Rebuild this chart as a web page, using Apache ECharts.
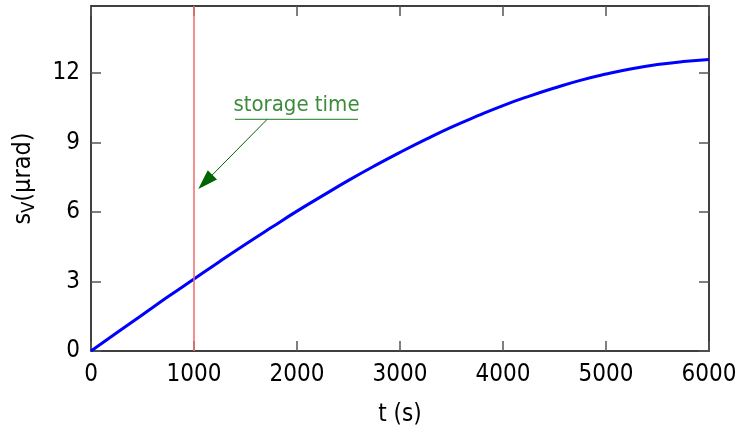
<!DOCTYPE html>
<html>
<head>
<meta charset="utf-8">
<script src="https://cdn.jsdelivr.net/npm/echarts@6/dist/echarts.min.js"></script>
<style>
  html, body { margin: 0; padding: 0; background: #fff; }
  #chart { width: 745px; height: 433px; }
</style>
</head>
<body>
<div id="chart"></div>
<script>
// values
const timeS = [0, 250, 500, 750, 1000, 1250, 1500, 1750, 2000, 2250, 2500, 2750, 3000,
  3250, 3500, 3750, 4000, 4250, 4500, 4750, 5000, 5250, 5500, 5750, 6000];
const sV = [0, 0.79, 1.57, 2.35, 3.11, 3.87, 4.61, 5.33, 6.04, 6.71, 7.37, 7.99, 8.58,
  9.14, 9.67, 10.15, 10.6, 11.0, 11.36, 11.69, 11.96, 12.19, 12.37, 12.5, 12.59];
const storageTime = 1000;
const noteText = 'storage time';
const noteUnderline = [[1398, 10.0], [2592, 10.0]];
const noteArrow = [[1709, 10.0], [1110, 7.3]];
const noteLabelAt = [1995, 10.0];

const font = 'DejaVu Sans Condensed';
const chart = echarts.init(document.getElementById('chart'));

const axisLine = { onZero: false, lineStyle: { color: '#000', width: 1.5 } };
const axisTick = { inside: true, length: 10, lineStyle: { color: '#555', width: 1.5 } };

const option = {
  animation: false,
  grid: { left: 91, right: 36, top: 6, bottom: 82 },
  xAxis: [
    {
      type: 'value', min: 0, max: 6000, interval: 1000,
      name: 't (s)', nameLocation: 'middle', nameGap: 52,
      nameTextStyle: { fontFamily: font, fontSize: 24, color: '#000' },
      axisLine, axisTick,
      axisLabel: { fontFamily: font, fontSize: 24, color: '#000', margin: 12, formatter: v => String(v) },
      splitLine: { show: false }
    },
    {
      type: 'value', min: 0, max: 6000, interval: 1000, position: 'top',
      axisLine, axisTick,
      axisLabel: { show: false },
      splitLine: { show: false }
    }
  ],
  yAxis: [
    {
      type: 'value', min: 0, max: 14.9, interval: 3,
      name: 's{sub|V}(µrad)', nameLocation: 'middle', nameGap: 53, nameRotate: 90,
      nameTextStyle: {
        fontFamily: font, fontSize: 25, color: '#000',
        rich: { sub: { fontFamily: font, fontSize: 18, color: '#000', padding: [11, 0, 0, 0] } }
      },
      axisLine, axisTick,
      axisLabel: {
        fontFamily: font, fontSize: 24, color: '#000', margin: 11, showMaxLabel: false,
        formatter: v => (v % 3 === 0 ? String(v) : '')
      },
      splitLine: { show: false }
    },
    {
      type: 'value', min: 0, max: 14.9, interval: 3, position: 'right',
      axisLine, axisTick,
      axisLabel: { show: false },
      splitLine: { show: false }
    }
  ],
  series: [
    {
      type: 'line',
      data: timeS.map((t, i) => [t, sV[i]]),
      smooth: true,
      showSymbol: false,
      lineStyle: { color: '#0000ff', width: 3 },
      z: 3,
      markLine: {
        silent: true,
        symbol: 'none',
        label: { show: false },
        lineStyle: { color: '#f06a6a', width: 1.5, type: 'solid' },
        data: [{ xAxis: storageTime }]
      }
    },
    {
      type: 'line',
      data: noteUnderline,
      showSymbol: false,
      lineStyle: { color: '#4a944a', width: 1.3 },
      markLine: {
        silent: true,
        symbol: ['none', 'triangle'],
        symbolSize: [13, 20],
        label: { show: false },
        lineStyle: { color: '#006400', width: 1, type: 'solid' },
        itemStyle: { color: '#006400' },
        data: [[{ coord: noteArrow[0] }, { coord: noteArrow[1] }]]
      }
    },
    {
      type: 'scatter',
      data: [noteLabelAt],
      symbolSize: 0,
      label: {
        show: true, position: 'top', distance: 3,
        formatter: noteText,
        fontFamily: font, fontSize: 22, color: '#0a6e0a'
      }
    }
  ]
};

chart.setOption(option);
</script>
</body>
</html>
